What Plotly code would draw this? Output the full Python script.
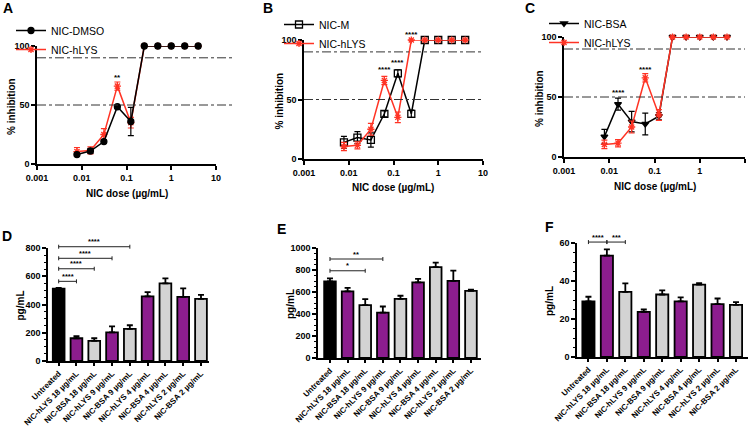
import math
import plotly.graph_objects as go

W, H = 750, 426

# ---------------- data ----------------
dose = [0.0078125, 0.015625, 0.03125, 0.0625, 0.125, 0.25, 0.5, 1, 2, 4]
dose_ticks = [0.001, 0.01, 0.1, 1, 10]
dose_ticklabels = ["0.001", "0.01", "0.1", "1", "10"]

hlys = [10.5, 11.5, 25, 66, 35, 100, 100, 100, 100, 100]
hlys_err = [3.5, 3, 5, 3.5, 4.5, 0, 0, 0, 0, 0]

dmso = [8, 11, 19, 48.5, 36, 100, 100, 100, 100, 100]
dmso_err = [1.5, 2, 1.5, 1.5, 12, 0, 0, 0, 0, 0]

nic_m = [14, 18, 16, 38, 72, 38, 100, 100, 100, 100]
nic_m_err = [5, 5, 6, 2.5, 3, 3, 0, 0, 0, 0]

nic_bsa = [17, 44, 29.5, 27.5, 34, 100, 100, 100, 100, 100]
nic_bsa_err = [6, 5, 8.5, 9, 3, 0, 0, 0, 0, 0]

sig_a = [("**", 0.0625, 73)]
sig_b = [("****", 0.0625, 75), ("****", 0.125, 81), ("****", 0.25, 105)]
sig_c = [("****", 0.015625, 54), ("****", 0.0625, 73)]

categories = ["Untreated", "NIC-hLYS 18 µg/mL", "NIC-BSA 18 µg/mL", "NIC-hLYS 9 µg/mL",
              "NIC-BSA 9 µg/mL", "NIC-hLYS 4 µg/mL", "NIC-BSA 4 µg/mL",
              "NIC-hLYS 2 µg/mL", "NIC-BSA 2 µg/mL"]

d_vals = [512, 161, 143, 203, 227, 458, 550, 454, 440]
d_err = [5, 15, 18, 42, 26, 30, 35, 60, 28]
e_vals = [696, 605, 480, 413, 538, 687, 827, 702, 611]
e_err = [28, 33, 55, 55, 28, 33, 40, 92, 10]
f_vals = [29.2, 53.4, 34.3, 23.7, 32.9, 29.3, 38.1, 27.8, 27.4]
f_err = [2.5, 3.2, 4.5, 1.3, 2.2, 2.1, 0.8, 3.0, 1.5]

brackets_d = [(0, 1, 564, "****"), (0, 2, 653, "****"), (0, 3, 727, "****"), (0, 4, 809, "****")]
brackets_e = [(0, 2, 793, "*"), (0, 3, 900, "**")]
brackets_f = [(0, 1, 60.5, "****"), (1, 2, 60.5, "***")]

# ---------------- styling ----------------
BLACK = "#000000"
RED = "#FF3324"
PURPLE = "#8C1D8E"
GRAY = "#D3D3D3"
FONT = "Liberation Sans"


def fx(p):
    return p / W


def fy(p):
    return 1 - p / H


fig = go.Figure()
annotations = []
shapes = []

axis_common = dict(showline=True, linecolor=BLACK, linewidth=1.5, ticks="outside",
                   ticklen=4, tickwidth=1.5, tickcolor=BLACK, showgrid=False,
                   zeroline=False, automargin=False,
                   tickfont=dict(family=FONT, size=9, color=BLACK, weight="bold"))


def dref(prefix, suf):
    return prefix + suf + " domain"


# top panels: (suffix, xpx, ypx(top,bottom), legend name, dashed-line extent)
top_specs = [
    ("", (37, 216), (46, 164), "legend", 1.09),
    ("2", (304, 483), (40, 159), "legend2", 1.0),
    ("3", (564, 745), (37, 157), "legend3", 1.0),
]
XLOG = [-3, 1]
YTOP = [0, 100]
layout_axes = {}
for suf, (x0, x1), (yt, yb), lg, ext in top_specs:
    layout_axes["xaxis" + suf] = dict(axis_common, domain=[fx(x0), fx(x1)], type="log",
                                      range=XLOG, tickvals=dose_ticks,
                                      ticktext=dose_ticklabels, anchor="y" + suf)
    layout_axes["yaxis" + suf] = dict(axis_common, domain=[fy(yb), fy(yt)], range=YTOP,
                                      tickvals=[0, 50, 100], anchor="x" + suf)
    for lvl in (50, 90):
        yd = (lvl - YTOP[0]) / (YTOP[1] - YTOP[0])
        shapes.append(dict(type="line", xref=dref("x", suf), yref=dref("y", suf),
                           x0=0, x1=ext, y0=yd, y1=yd,
                           line=dict(color="#333333", width=1, dash="dashdot")))
    annotations.append(dict(text="% inhibition", xref="paper", yref="paper",
                            x=fx(x0 - 25), y=fy((yt + yb) / 2 + 2), textangle=-90,
                            showarrow=False, xanchor="center", yanchor="middle",
                            font=dict(family=FONT, size=10, color=BLACK, weight="bold")))
    annotations.append(dict(text="NIC dose (µg/mL)", xref="paper", yref="paper",
                            x=fx((x0 + x1) / 2), y=fy(yb + 29), showarrow=False,
                            xanchor="center", yanchor="middle",
                            font=dict(family=FONT, size=10, color=BLACK, weight="bold")))


def line_trace(name, y, err, color, symbol, size, suf, legend, rank):
    return go.Scatter(
        x=dose, y=y, name=name, mode="lines+markers",
        xaxis="x" + suf, yaxis="y" + suf, legend=legend, legendrank=rank,
        line=dict(color=color, width=1.5), cliponaxis=False,
        marker=dict(symbol=symbol, size=size, color=color, line=dict(color=color, width=1.3)),
        error_y=dict(type="data", array=err, color=color, thickness=1.2, width=3),
    )


# A
fig.add_trace(line_trace("NIC-hLYS", hlys, hlys_err, RED, "asterisk-open", 6, "", "legend", 2))
fig.add_trace(line_trace("NIC-DMSO", dmso, dmso_err, BLACK, "circle", 6, "", "legend", 1))
# B
fig.add_trace(line_trace("NIC-M", nic_m, nic_m_err, BLACK, "square-open", 7, "2", "legend2", 1))
fig.add_trace(line_trace("NIC-hLYS", hlys, hlys_err, RED, "asterisk-open", 6, "2", "legend2", 2))
# C
fig.add_trace(line_trace("NIC-BSA", nic_bsa, nic_bsa_err, BLACK, "triangle-down", 6, "3", "legend3", 1))
fig.add_trace(line_trace("NIC-hLYS", hlys, hlys_err, RED, "asterisk-open", 6, "3", "legend3", 2))

for suf, sigs in (("", sig_a), ("2", sig_b), ("3", sig_c)):
    for txt, xv, yv in sigs:
        xd = (math.log10(xv) - XLOG[0]) / (XLOG[1] - XLOG[0])
        yd = (yv - YTOP[0]) / (YTOP[1] - YTOP[0])
        annotations.append(dict(text=txt, xref=dref("x", suf), yref=dref("y", suf), x=xd, y=yd,
                                showarrow=False, xanchor="center", yanchor="middle",
                                font=dict(family=FONT, size=8, color=BLACK, weight="bold")))

# bottom panels
bar_colors = [BLACK if c == "Untreated" else (PURPLE if "hLYS" in c else GRAY) for c in categories]
bottom_specs = [
    ("4", (48, 209), (248, 361), [-0.6, 8.45], 800, 200, 50, d_vals, d_err, brackets_d),
    ("5", (318, 481), (248, 358), [-0.68, 8.57], 1000, 200, 50, e_vals, e_err, brackets_e),
    ("6", (577, 748), (243, 357), [-0.62, 8.65], 60, 20, 5, f_vals, f_err, brackets_f),
]
for suf, (x0, x1), (yt, yb), xr, ymax, dt, mdt, vals, errs, brs in bottom_specs:
    layout_axes["xaxis" + suf] = dict(axis_common, domain=[fx(x0), fx(x1)], range=xr,
                                      tickvals=list(range(len(categories))), ticktext=categories,
                                      tickangle=-45, anchor="y" + suf, ticklen=3,
                                      tickfont=dict(family=FONT, size=8, color=BLACK, weight="bold"))
    layout_axes["yaxis" + suf] = dict(axis_common, domain=[fy(yb), fy(yt)], range=[0, ymax],
                                      dtick=dt, tick0=0, anchor="x" + suf,
                                      minor=dict(dtick=mdt, ticks="outside", ticklen=2,
                                                 tickcolor=BLACK, tickwidth=1))
    fig.add_trace(go.Bar(
        x=list(range(len(categories))), y=vals, xaxis="x" + suf, yaxis="y" + suf,
        width=0.66, showlegend=False,
        marker=dict(color=bar_colors, line=dict(color=BLACK, width=1.8)),
        error_y=dict(type="data", array=errs, arrayminus=[0] * len(errs), symmetric=False,
                     color=BLACK, thickness=1.8, width=3),
    ))
    annotations.append(dict(text="pg/mL", xref="paper", yref="paper",
                            x=fx(x0 - 28), y=fy((yt + yb) / 2 + 1), textangle=-90,
                            showarrow=False, xanchor="center", yanchor="middle",
                            font=dict(family=FONT, size=10, color=BLACK, weight="bold")))
    hpx = yb - yt
    t = 2.0 / hpx
    for i, j, yv, txt in brs:
        xd0 = (i - xr[0]) / (xr[1] - xr[0])
        xd1 = (j - xr[0]) / (xr[1] - xr[0])
        yd = yv / ymax
        for (a0, b0, a1, b1) in ((xd0, yd, xd1, yd), (xd0, yd - t, xd0, yd + t), (xd1, yd - t, xd1, yd + t)):
            shapes.append(dict(type="line", xref=dref("x", suf), yref=dref("y", suf),
                               x0=a0, y0=b0, x1=a1, y1=b1, line=dict(color="#222222", width=1)))
        annotations.append(dict(text=txt, xref=dref("x", suf), yref=dref("y", suf),
                                x=(xd0 + xd1) / 2, y=yd,
                                yshift=5, showarrow=False, xanchor="center", yanchor="middle",
                                font=dict(family=FONT, size=7.5, color=BLACK, weight="bold")))

# panel letters
for letter, (px, py) in (("A", (8, 8)), ("B", (268, 8)), ("C", (530, 8)),
                         ("D", (7, 236)), ("E", (281, 229)), ("F", (549, 227))):
    annotations.append(dict(text=letter, xref="paper", yref="paper", x=fx(px), y=fy(py),
                            showarrow=False, xanchor="center", yanchor="middle",
                            font=dict(family=FONT, size=14, color=BLACK, weight="bold")))

legend_common = dict(bgcolor="rgba(0,0,0,0)", borderwidth=0, xanchor="left", yanchor="top",
                     font=dict(family=FONT, size=10.5, color=BLACK), itemwidth=30,
                     tracegroupgap=0)
fig.update_layout(
    template="none",
    width=W, height=H, autosize=False,
    margin=dict(l=0, r=0, t=0, b=0, autoexpand=False),
    paper_bgcolor="white", plot_bgcolor="white",
    showlegend=True,
    legend=dict(legend_common, x=fx(53 - 42), y=fy(16)),
    legend2=dict(legend_common, x=fx(321 - 42), y=fy(10)),
    legend3=dict(legend_common, x=fx(586 - 42), y=fy(9)),
    annotations=annotations,
    shapes=shapes,
    **layout_axes,
)

fig.write_html("out.html", config={"displayModeBar": False},
               post_script="document.body.style.margin='0';document.body.style.overflow='hidden';")
